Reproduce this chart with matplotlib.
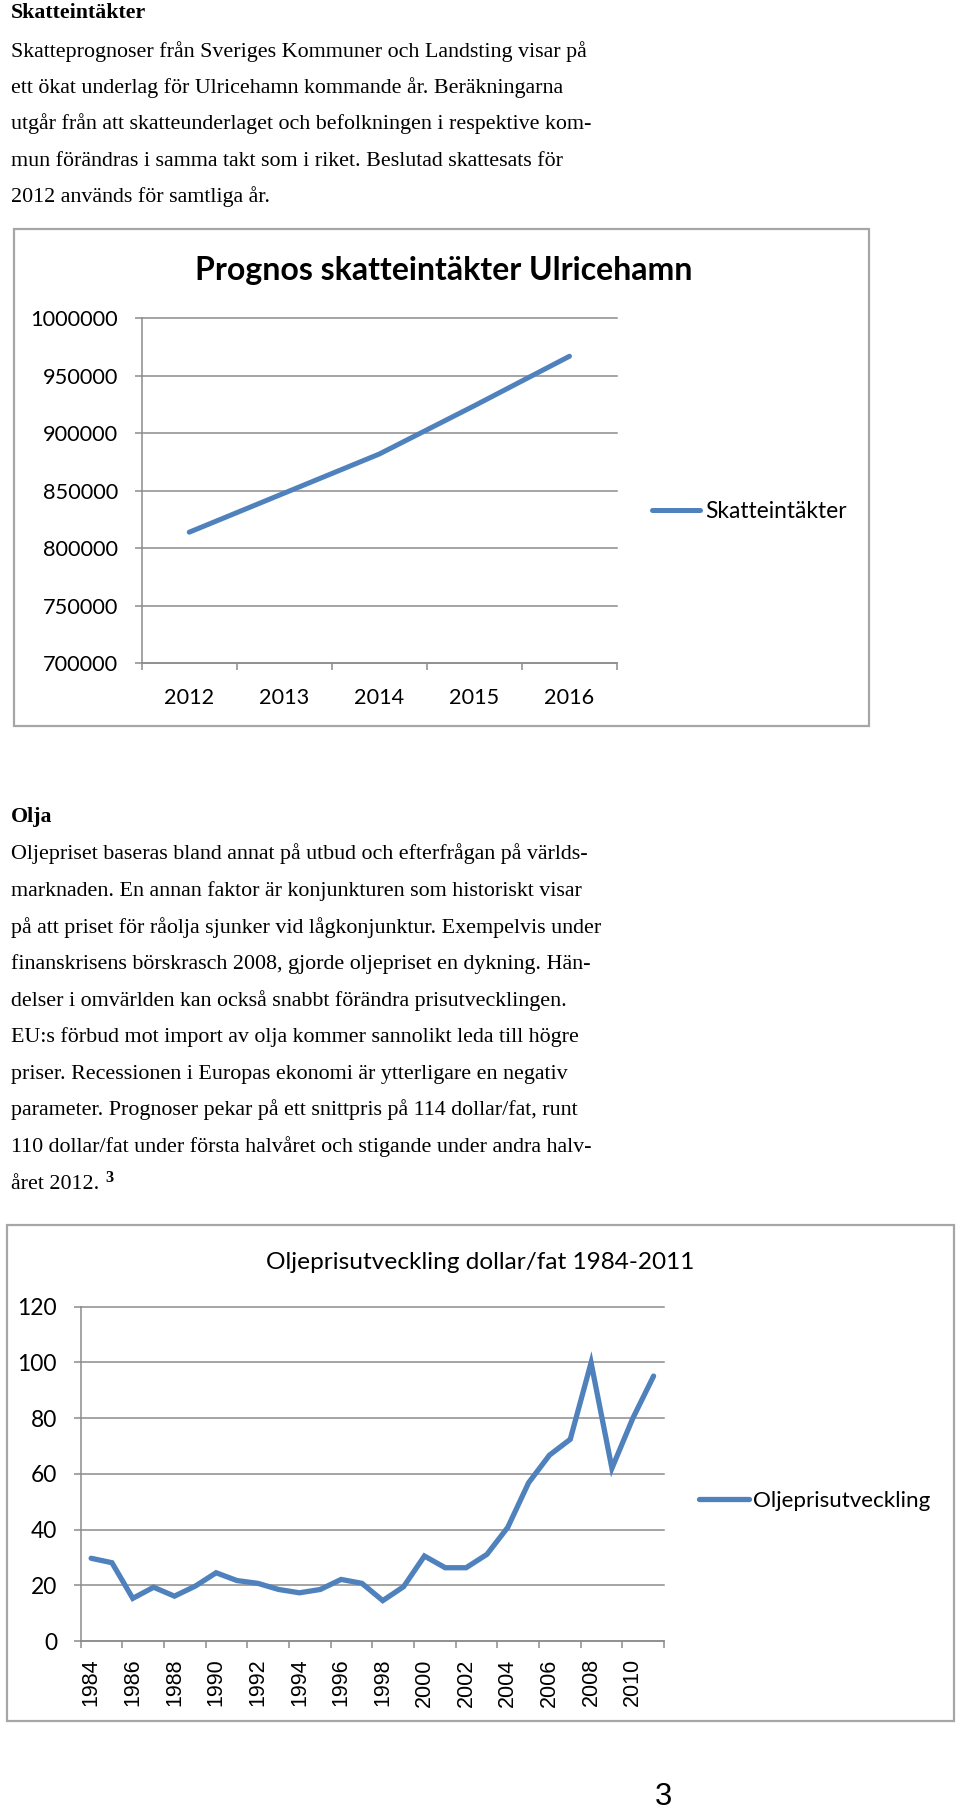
import numpy as np
import matplotlib
matplotlib.use("Agg")
import matplotlib.pyplot as plt
from matplotlib.textpath import TextPath
from matplotlib.font_manager import FontProperties
from matplotlib.patches import Rectangle

# ---------------- data ----------------
tax_years = ["2012", "2013", "2014", "2015", "2016"]
tax_values = [814000, 848000, 882000, 924000, 967000]
tax_yticks = [700000, 750000, 800000, 850000, 900000, 950000, 1000000]
tax_title = "Prognos skatteintäkter Ulricehamn"
tax_series = "Skatteintäkter"

oil_years = list(range(1984, 2012))
oil_prices = [29.7, 28.1, 15.3, 19.3, 16.1, 19.7, 24.5, 21.7, 20.7, 18.5,
              17.3, 18.5, 22.1, 20.7, 14.5, 19.5, 30.5, 26.3, 26.3, 31.1,
              40.8, 56.8, 66.7, 72.4, 99.9, 62.0, 79.9, 95.1]
oil_yticks = [0, 20, 40, 60, 80, 100, 120]
oil_title = "Oljeprisutveckling dollar/fat 1984-2011"
oil_series = "Oljeprisutveckling"

head1 = "Skatteintäkter"
body1 = [
    "Skatteprognoser från Sveriges Kommuner och Landsting visar på",
    "ett ökat underlag för Ulricehamn kommande år. Beräkningarna",
    "utgår från att skatteunderlaget och befolkningen i respektive kom-",
    "mun förändras i samma takt som i riket. Beslutad skattesats för",
    "2012 används för samtliga år.",
]
head2 = "Olja"
body2 = [
    "Oljepriset baseras bland annat på utbud och efterfrågan på världs-",
    "marknaden. En annan faktor är konjunkturen som historiskt visar",
    "på att priset för råolja sjunker vid lågkonjunktur. Exempelvis under",
    "finanskrisens börskrasch 2008, gjorde oljepriset en dykning. Hän-",
    "delser i omvärlden kan också snabbt förändra prisutvecklingen.",
    "EU:s förbud mot import av olja kommer sannolikt leda till högre",
    "priser. Recessionen i Europas ekonomi är ytterligare en negativ",
    "parameter. Prognoser pekar på ett snittpris på 114 dollar/fat, runt",
    "110 dollar/fat under första halvåret och stigande under andra halv-",
    "året 2012.",
]
footnote = "3"
page_no = "3"

# ---------------- layout helpers ----------------
W, H, DPI = 960, 1812, 100
SERIF = "Liberation Serif"
CHART = "Lato"
ARIAL = "Liberation Sans"
BLUE = "#4F81BD"
GRID = "#8c8c8c"
FRAME = "#a6a6a6"


def fit_w(s, family, px, weight="normal"):
    fp = FontProperties(family=family, weight=weight)
    w = TextPath((0, 0), s, size=100, prop=fp).get_extents().width
    return 100 * px * 72 / DPI / w


def fit_h(s, family, px, weight="normal"):
    fp = FontProperties(family=family, weight=weight)
    h = TextPath((0, 0), s, size=100, prop=fp).get_extents().height
    return 100 * px * 72 / DPI / h


def fx(x):
    return x / W


def fy(y):
    return 1 - y / H


fig = plt.figure(figsize=(W / DPI, H / DPI), dpi=DPI)
fig.patch.set_facecolor("white")


def ftext(x, y, s, size, family, weight="normal", **kw):
    fig.text(fx(x), fy(y), s, fontsize=size, family=family, weight=weight,
             va="baseline", ha=kw.pop("ha", "left"), color="black", **kw)


# ---------------- body text ----------------
body_fs = fit_w(body1[0], SERIF, 573)
ftext(11, 18.5, head1, fit_w(head1, SERIF, 133, "bold"), SERIF, "bold")
for i, line in enumerate(body1):
    ftext(11, 56.7 + i * 36.3, line, body_fs, SERIF)

ftext(11, 821.7, head2, fit_w(head2, SERIF, 40, "bold"), SERIF, "bold")
for i, line in enumerate(body2):
    ftext(11, 859.3 + i * 36.6, line, body_fs, SERIF)
ftext(105.5, 1181.5, footnote, fit_h(footnote, SERIF, 11, "bold"), SERIF, "bold")

ftext(663, 1805, page_no, fit_h(page_no, ARIAL, 22), ARIAL, ha="center")

# ---------------- frames ----------------
for (x0, y0, x1, y1) in [(14, 229.5, 869, 726), (7, 1225, 954, 1721)]:
    fig.add_artist(Rectangle((fx(x0), fy(y1)), (x1 - x0) / W, (y1 - y0) / H,
                             transform=fig.transFigure, fill=False,
                             edgecolor=FRAME, lw=1.6))


def style_axes(ax):
    for s in ("top", "right"):
        ax.spines[s].set_visible(False)
    for s in ("left", "bottom"):
        ax.spines[s].set_color(GRID)
        ax.spines[s].set_linewidth(1.1)
    ax.yaxis.grid(True, color=GRID, lw=1.1)
    ax.set_axisbelow(True)
    for gl in ax.get_ygridlines():
        gl.set_clip_on(False)
    ax.set_facecolor("none")


# ---------------- chart 1 ----------------
ax1 = fig.add_axes([fx(141.7), fy(663.3), (617 - 141.7) / W, 345 / H])
x1 = np.arange(len(tax_years))
ax1.plot(x1, tax_values, color=BLUE, lw=3.6, solid_capstyle="round",
         solid_joinstyle="round", label=tax_series, clip_on=False)
ax1.set_xlim(-0.5, len(tax_years) - 0.5)
ax1.set_ylim(tax_yticks[0], tax_yticks[-1])
ax1.set_yticks(tax_yticks)
ax1.set_yticklabels([str(v) for v in tax_yticks])
ax1.set_xticks(np.arange(-0.5, len(tax_years), 1.0))
ax1.set_xticklabels([])
ax1.set_xticks(x1, minor=True)
ax1.set_xticklabels(tax_years, minor=True)
ytick_fs1 = fit_w("1000000", CHART, 86)
xtick_fs1 = fit_w("2012", CHART, 48)
ax1.tick_params(axis="y", length=5, width=1.1, color=GRID, pad=12,
                labelsize=ytick_fs1)
for t in ax1.get_yticklabels():
    t.set_family(CHART)
ax1.tick_params(axis="x", which="major", length=5, width=1.1, color=GRID)
ax1.tick_params(axis="x", which="minor", length=0, pad=17.5,
                labelsize=xtick_fs1)
for t in ax1.get_xticklabels(minor=True):
    t.set_family(CHART)
style_axes(ax1)
ftext(443.5, 280, tax_title, fit_w(tax_title, CHART, 493, "bold"), CHART, "bold",
      ha="center")
leg_fs1 = fit_w(tax_series, CHART, 140)
em1 = leg_fs1 * DPI / 72
leg1 = ax1.legend(loc="center left", bbox_to_anchor=(fx(652), fy(511)),
                  bbox_transform=fig.transFigure, frameon=False,
                  prop=FontProperties(family=CHART, size=leg_fs1),
                  handlelength=48 / em1, handletextpad=5 / em1,
                  borderpad=0, borderaxespad=0)

# ---------------- chart 2 ----------------
ax2 = fig.add_axes([fx(80.7), fy(1641), (664 - 80.7) / W, (1641 - 1306.7) / H])
x2 = np.arange(len(oil_years))
ax2.plot(x2, oil_prices, color=BLUE, lw=3.8, solid_capstyle="round",
         solid_joinstyle="miter", label=oil_series, clip_on=False)
ax2.set_xlim(-0.5, len(oil_years) - 0.5)
ax2.set_ylim(oil_yticks[0], oil_yticks[-1])
ax2.set_yticks(oil_yticks)
ax2.set_yticklabels([str(v) for v in oil_yticks])
ax2.set_xticks(np.arange(-0.5, len(oil_years), 2.0))
ax2.set_xticklabels([])
ax2.set_xticks(x2[::2], minor=True)
ax2.set_xticklabels([str(y) for y in oil_years[::2]], minor=True, rotation=90)
ytick_fs2 = fit_w("120", CHART, 37)
xtick_fs2 = fit_w("1984", ARIAL, 45.7)
ax2.tick_params(axis="y", length=5, width=1.1, color=GRID, pad=12,
                labelsize=ytick_fs2)
for t in ax2.get_yticklabels():
    t.set_family(CHART)
ax2.tick_params(axis="x", which="major", length=5, width=1.1, color=GRID)
ax2.tick_params(axis="x", which="minor", length=0, pad=12.5,
                labelsize=xtick_fs2)
for t in ax2.get_xticklabels(minor=True):
    t.set_family(ARIAL)
style_axes(ax2)
ftext(480, 1269, oil_title, fit_w(oil_title, CHART, 426), CHART, ha="center")
leg_fs2 = fit_w(oil_series, CHART, 175)
em2 = leg_fs2 * DPI / 72
leg2 = ax2.legend(loc="center left", bbox_to_anchor=(fx(699), fy(1501)),
                  bbox_transform=fig.transFigure, frameon=False,
                  prop=FontProperties(family=CHART, size=leg_fs2),
                  handlelength=50 / em2, handletextpad=4 / em2,
                  borderpad=0, borderaxespad=0)

fig.savefig("out.png", dpi=DPI, facecolor="white")
